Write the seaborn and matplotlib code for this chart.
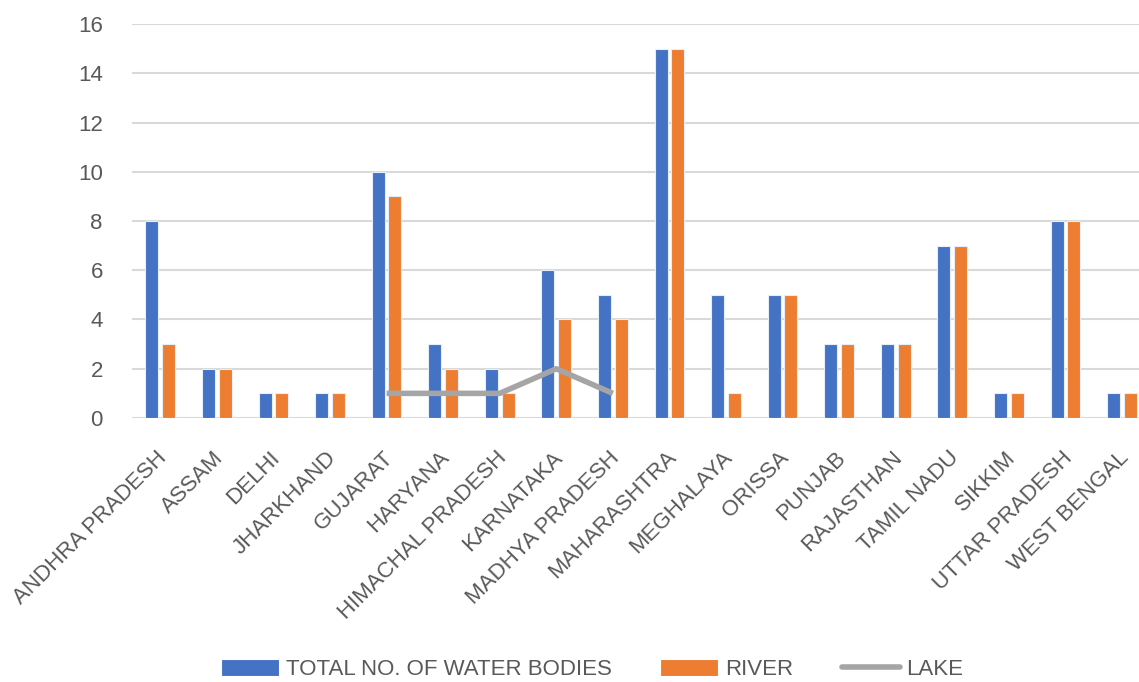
import numpy as np
import pandas as pd
import matplotlib
matplotlib.use("Agg")
import matplotlib.pyplot as plt
import matplotlib.transforms as mtransforms
from matplotlib.patches import Patch
from matplotlib.lines import Line2D
import seaborn as sns

# Water bodies by state
states = ["ANDHRA PRADESH", "ASSAM", "DELHI", "JHARKHAND", "GUJARAT", "HARYANA",
          "HIMACHAL PRADESH", "KARNATAKA", "MADHYA PRADESH", "MAHARASHTRA",
          "MEGHALAYA", "ORISSA", "PUNJAB", "RAJASTHAN", "TAMIL NADU", "SIKKIM",
          "UTTAR PRADESH", "WEST BENGAL"]
total_water_bodies = [8, 2, 1, 1, 10, 3, 2, 6, 5, 15, 5, 5, 3, 3, 7, 1, 8, 1]
river = [3, 2, 1, 1, 9, 2, 1, 4, 4, 15, 1, 5, 3, 3, 7, 1, 8, 1]
lake = [np.nan, np.nan, np.nan, np.nan, 1, 1, 1, 2, 1,
        np.nan, np.nan, np.nan, np.nan, np.nan, np.nan, np.nan, np.nan, np.nan]
series_names = ["TOTAL NO. OF WATER BODIES", "RIVER", "LAKE"]
y_ticks = [0, 2, 4, 6, 8, 10, 12, 14, 16]

BLUE = "#4472C4"
ORANGE = "#ED7D31"
GRAY = "#A5A5A5"
TEXT = "#595959"
GRID = "#D9D9D9"

sns.set_theme(style="white")
plt.rcParams["font.family"] = ["Liberation Sans", "DejaVu Sans"]

bars = pd.DataFrame({
    "state": states * 2,
    "count": total_water_bodies + river,
    "series": [series_names[0]] * len(states) + [series_names[1]] * len(states),
})

fig = plt.figure(figsize=(11.39, 6.82), dpi=100)
ax = fig.add_axes([0.1159, 0.3871, 0.8841, 0.5777])

sns.barplot(data=bars, x="state", y="count", hue="series", order=states,
            hue_order=series_names[:2], palette=[BLUE, ORANGE], saturation=1,
            width=0.59, gap=0.22, edgecolor="#E8EEF8", linewidth=0.8,
            legend=False, ax=ax, zorder=3)

sns.lineplot(x=np.arange(len(states)), y=lake, color=GRAY, linewidth=4,
             ax=ax, zorder=4, solid_capstyle="butt")

ax.set_ylim(0, 16)
ax.set_xlim(-0.5, 17.3)
ax.set_yticks(y_ticks)
ax.yaxis.grid(True, color=GRID, linewidth=1.5, zorder=0)
ax.set_axisbelow(True)
for s in ax.spines.values():
    s.set_visible(False)
ax.set_xlabel("")
ax.set_ylabel("")

ax.tick_params(axis="y", length=0, pad=21, labelsize=16, labelcolor=TEXT)
ax.tick_params(axis="x", length=0, pad=21, labelsize=16, labelcolor=TEXT)
ax.set_xticks(range(len(states)))
ax.set_xticklabels(states, rotation=45, ha="right", va="top",
                   rotation_mode="anchor")
shift = mtransforms.ScaledTranslation(-4 / 100, 0, fig.dpi_scale_trans)
for lbl in ax.get_xticklabels():
    lbl.set_transform(lbl.get_transform() + shift)

handles = [Patch(facecolor=BLUE, edgecolor="white", linewidth=0.8),
           Patch(facecolor=ORANGE, edgecolor="white", linewidth=0.8),
           Line2D([0], [0], color=GRAY, linewidth=4)]
leg = fig.legend(handles, series_names, loc="center", bbox_to_anchor=(0.52, 0.018),
                 ncol=3, frameon=False, fontsize=16, handlelength=2.6,
                 handleheight=0.8, handletextpad=0.3, columnspacing=2.2,
                 labelcolor=TEXT)

fig.savefig("out.png", dpi=100, facecolor="white")
